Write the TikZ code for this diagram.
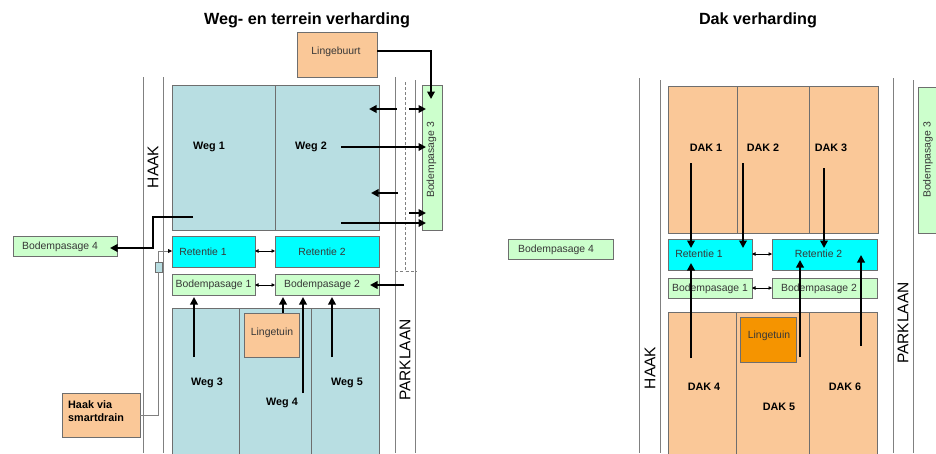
\documentclass[tikz,border=0pt]{standalone}
\usepackage{fontspec}
\setmainfont{Liberation Sans}
\usetikzlibrary{arrows.meta,fit}
\definecolor{wegblue}{RGB}{184,222,226}
\definecolor{dakorange}{RGB}{250,200,152}
\definecolor{lingeorange}{RGB}{245,148,0}
\definecolor{retcyan}{RGB}{0,255,255}
\definecolor{bodgreen}{RGB}{204,255,204}
\definecolor{boxtext}{RGB}{55,55,55}
\definecolor{edge}{RGB}{110,110,110}
\tikzset{
  cell/.style={draw=edge, line width=0.7pt, inner sep=0pt, outer sep=0pt},
  wegcell/.style={cell, fill=wegblue},
  dakcell/.style={cell, fill=dakorange},
  retbox/.style={cell, fill=retcyan},
  bodbox/.style={cell, fill=bodgreen},
  orbox/.style={cell, fill=dakorange},
  lingebox/.style={cell, fill=lingeorange},
  boxlabel/.style={text=boxtext, font=\fontsize{10.4}{12}\selectfont, inner sep=0pt},
  blocklabel/.style={font=\bfseries\fontsize{10.8}{12}\selectfont, inner sep=0pt},
  title/.style={font=\bfseries\fontsize{16.2}{18}\selectfont, inner sep=0pt},
  street/.style={font=\fontsize{15.5}{17}\selectfont, rotate=90, inner sep=0pt},
  road/.style={draw=gray, line width=0.7pt},
  bigarrow/.style={line width=2.6pt, -{Triangle[length=7.5pt,width=7.5pt]}},
  duo/.style={line width=0.8pt, {Triangle[length=3.5pt,width=3.5pt]}-{Triangle[length=3.5pt,width=3.5pt]}},
}
\begin{document}
\begin{tikzpicture}[x=1pt,y=-1pt]
\useasboundingbox (0,0) rectangle (936,453);
\clip (0,0) rectangle (936,453);
\fill[white] (0,0) rectangle (936,453);

% ================= LEFT: Weg- en terrein verharding =================
\node[title] (t1) at (307,20) {Weg- en terrein verharding};

% roads
\draw[road] (143,77) -- (143,453);
\draw[road] (163,77) -- (163,453);
\draw[road] (395,77) -- (395,453);
\draw[road] (415,80) -- (415,453);
\draw[gray, line width=0.6pt, densely dashed] (405,82) -- (405,271) -- (417,271);
\draw[gray, line width=0.6pt, densely dashed] (395,271) -- (405,271);

% top blocks
\node[wegcell, fit={(172,85) (275,230)}] (w1) {};
\node[wegcell, fit={(275,85) (379,230)}] (w2) {};
\node[blocklabel] at (209,147) {Weg 1};
\node[blocklabel] at (311,147) {Weg 2};

% retentie
\node[retbox, fit={(172,236) (255,267)}] (lr1) {};
\node[retbox, fit={(275,236) (379,267)}] (lr2) {};
\node[boxlabel] at (203,252) {Retentie 1};
\node[boxlabel] at (322,252) {Retentie 2};

% bodempasage 1,2
\node[bodbox, fit={(172,274) (255,295)}] (lb1) {};
\node[bodbox, fit={(275,274) (379,295)}] (lb2) {};
\node[boxlabel] at (213.5,285) {Bodempasage 1};
\node[boxlabel] at (322,285) {Bodempasage 2};

% lower blocks
\node[wegcell, fit={(172,308) (239,470)}] (w3) {};
\node[wegcell, fit={(239,308) (311,470)}] (w4) {};
\node[wegcell, fit={(311,308) (379,470)}] (w5) {};
\node[blocklabel] at (207,383) {Weg 3};
\node[blocklabel] at (282,403) {Weg 4};
\node[blocklabel] at (347,383) {Weg 5};
\node[orbox, fit={(244,313) (299,357)}] (llt) {};
\node[boxlabel] at (272,333) {Lingetuin};

% other boxes
\node[orbox, fit={(297,32) (377,77)}] (lgb) {};
\node[boxlabel] at (336,52) {Lingebuurt};
\node[bodbox, fit={(422,85) (442,230)}] (lb3) {};
\node[boxlabel, rotate=90] at (431.5,160) {Bodempasage 3};
\node[bodbox, fit={(13,236) (117,256)}] (lb4) {};
\node[boxlabel] at (60,247) {Bodempasage 4};
\node[orbox, fit={(62,393) (140,437)}] (hvs) {};
\node[blocklabel, align=left, anchor=west, font=\bfseries\fontsize{10.8}{13}\selectfont] at (68,411.5) {Haak via\\smartdrain};
\node[cell, fill=wegblue, fit={(155,262) (162,272)}] (sd) {};

% street names
\node[street] (haak1) at (153,167) {HAAK};
\node[street] (park1) at (405,360) {PARKLAAN};

% arrows
\coordinate (a1) at (431,99);
\draw[bigarrow] (lgb.east |- 0,51) -- (431,51) -- (a1);
\draw[bigarrow] (397,109) -- (369,109);
\draw[bigarrow] (409,109) -- (426,109);
\draw[bigarrow] (341,147) -- (426,147);
\draw[bigarrow] (398,193) -- (371,193);
\draw[bigarrow] (409,213) -- (426,213);
\draw[bigarrow] (341,223) -- (426,223);
\draw[bigarrow] (193,217) -- (153,217) -- (153,248) -- (110,248);
\draw[bigarrow] (404,285) -- (370,285);
\draw[duo] (lr1.east |- 0,251) -- (lr2.west |- 0,251);
\draw[duo] (lb1.east |- 0,285) -- (lb2.west |- 0,285);
\draw[bigarrow] (194,357) -- (194,297);
\draw[bigarrow] (llt.north -| 283,0) -- (283,297);
\draw[bigarrow] (303,393) -- (303,297);
\draw[bigarrow] (332,357) -- (332,297);
\draw[gray, line width=0.8pt] (hvs.east |- 0,415) -- (158.5,415) -- (sd.south);
\draw[gray, line width=0.8pt, -{Triangle[length=4pt,width=4pt,black]}] (sd.north) -- (158.5,251) -- (lr1.west |- 0,251);

% ================= RIGHT: Dak verharding =================
\node[title] (t2) at (758,20) {Dak verharding};

\draw[road] (639,78) -- (639,453);
\draw[road] (660,80) -- (660,453);
\draw[road] (893,78) -- (893,453);
\draw[road] (913,80) -- (913,453);

\node[dakcell, fit={(668,86) (737,233)}] (d1) {};
\node[dakcell, fit={(737,86) (809,233)}] (d2) {};
\node[dakcell, fit={(809,86) (878,233)}] (d3) {};
\node[blocklabel] at (706,148) {DAK 1};
\node[blocklabel] at (763,148) {DAK 2};
\node[blocklabel] at (831,148) {DAK 3};

\node[retbox, fit={(668,239) (752,270)}] (rr1) {};
\node[retbox, fit={(772,239) (877,270)}] (rr2) {};
\node[boxlabel] at (699,254) {Retentie 1};
\node[boxlabel] at (818.5,254) {Retentie 2};

\node[bodbox, fit={(668,278) (752,298)}] (rb1) {};
\node[bodbox, fit={(772,278) (877,298)}] (rb2) {};
\node[boxlabel] at (710,288.5) {Bodempasage 1};
\node[boxlabel] at (819,288.5) {Bodempasage 2};

\node[dakcell, fit={(668,312) (736,470)}] (d4) {};
\node[dakcell, fit={(736,312) (809,470)}] (d5) {};
\node[dakcell, fit={(809,312) (877,470)}] (d6) {};
\node[blocklabel] at (704,387) {DAK 4};
\node[blocklabel] at (779,407) {DAK 5};
\node[blocklabel] at (845,387) {DAK 6};
\node[lingebox, fit={(740,317) (796,362)}] (rlt) {};
\node[boxlabel] at (769,336) {Lingetuin};

\node[bodbox, fit={(508,239) (613,259)}] (rb4) {};
\node[boxlabel] at (556,250) {Bodempasage 4};
\node[bodbox, fit={(918,87) (940,233)}] (rb3) {};
\node[boxlabel, rotate=90] at (928,160) {Bodempasage 3};

\node[street] (haak2) at (650,368) {HAAK};
\node[street] (park2) at (903,323) {PARKLAAN};

\draw[bigarrow] (691,163) -- (691,248);
\draw[bigarrow] (743,163) -- (743,248);
\draw[bigarrow] (824,168) -- (824,248);
\draw[bigarrow] (691,358) -- (691,263);
\draw[bigarrow] (800,357) -- (800,260);
\draw[bigarrow] (861,346) -- (861,255);
\draw[duo] (rr1.east |- 0,254) -- (rr2.west |- 0,254);
\draw[duo] (rb1.east |- 0,288) -- (rb2.west |- 0,288);
\end{tikzpicture}
\end{document}
